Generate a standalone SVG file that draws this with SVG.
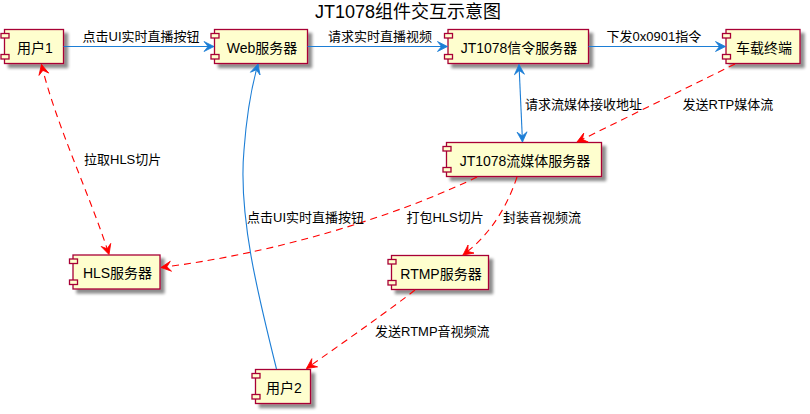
<svg xmlns="http://www.w3.org/2000/svg" width="810" height="414" viewBox="0 0 810 414">
<style>
.body{fill:#FEFECE;stroke:#A80036;stroke-width:1.3}
.bump{fill:#FEFECE;stroke:#A80036;stroke-width:1.3}
.nt{font-family:"Liberation Sans","Noto Sans CJK SC",sans-serif;font-size:14px;fill:#000;text-anchor:middle}
.lb{font-family:"Liberation Sans","Noto Sans CJK SC",sans-serif;font-size:13px;fill:#000}
.title{font-family:"Liberation Sans","Noto Sans CJK SC",sans-serif;font-size:18px;fill:#000}
.blue{fill:none;stroke:#1C7ED6;stroke-width:1.1}
.red{fill:none;stroke:#FF0000;stroke-width:1.1;stroke-dasharray:7,5}
</style>
<defs>
<filter id="sh" x="-20%" y="-30%" width="150%" height="170%">
<feGaussianBlur in="SourceAlpha" stdDeviation="1.8"/>
<feOffset dx="4" dy="4" result="b"/>
<feComponentTransfer><feFuncA type="linear" slope="0.45"/></feComponentTransfer>
<feMerge><feMergeNode/><feMergeNode in="SourceGraphic"/></feMerge>
</filter>
<marker id="ab" viewBox="-11 -6 12 12" refX="0" refY="0" markerWidth="12" markerHeight="12" markerUnits="userSpaceOnUse" orient="auto-start-reverse">
<path d="M0,0 L-10,-5 L-6,0 L-10,5 Z" fill="#1C7ED6" stroke="#1C7ED6" stroke-width="0.8"/>
</marker>
<marker id="ar" viewBox="-11 -6 12 12" refX="0" refY="0" markerWidth="12" markerHeight="12" markerUnits="userSpaceOnUse" orient="auto-start-reverse">
<path d="M0,0 L-10,-5 L-6,0 L-10,5 Z" fill="#FF0000" stroke="#FF0000" stroke-width="0.8"/>
</marker>
</defs>
<rect width="810" height="414" fill="#fff"/>
<text class="title" x="315" y="18">JT1078组件交互示意图</text>

<g id="user1">
<rect class="body" filter="url(#sh)" x="4.5" y="29.5" width="59" height="34"/>
<rect class="bump" x="1" y="33.5" width="8" height="4.5"/>
<rect class="bump" x="1" y="54.5" width="8" height="4.5"/>
<text class="nt" x="35" y="52.5">用户1</text>
</g>
<g id="web">
<rect class="body" filter="url(#sh)" x="214.5" y="29.5" width="93" height="34"/>
<rect class="bump" x="211" y="33.5" width="8" height="4.5"/>
<rect class="bump" x="211" y="54.5" width="8" height="4.5"/>
<text class="nt" x="262" y="52.5">Web服务器</text>
</g>
<g id="signal">
<rect class="body" filter="url(#sh)" x="448" y="29.5" width="140.5" height="34"/>
<rect class="bump" x="444.5" y="33.5" width="8" height="4.5"/>
<rect class="bump" x="444.5" y="54.5" width="8" height="4.5"/>
<text class="nt" x="519" y="52.5">JT1078信令服务器</text>
</g>
<g id="terminal">
<rect class="body" filter="url(#sh)" x="726" y="29.5" width="74" height="34"/>
<rect class="bump" x="722.5" y="33.5" width="8" height="4.5"/>
<rect class="bump" x="722.5" y="54.5" width="8" height="4.5"/>
<text class="nt" x="764" y="52.5">车载终端</text>
</g>
<g id="media">
<rect class="body" filter="url(#sh)" x="446.5" y="142.5" width="155" height="34"/>
<rect class="bump" x="443" y="146.5" width="8" height="4.5"/>
<rect class="bump" x="443" y="167.5" width="8" height="4.5"/>
<text class="nt" x="525" y="165.5">JT1078流媒体服务器</text>
</g>
<g id="hls">
<rect class="body" filter="url(#sh)" x="73" y="255" width="87" height="34"/>
<rect class="bump" x="69.5" y="259" width="8" height="4.5"/>
<rect class="bump" x="69.5" y="280" width="8" height="4.5"/>
<text class="nt" x="117.5" y="278">HLS服务器</text>
</g>
<g id="rtmp">
<rect class="body" filter="url(#sh)" x="391.5" y="255.5" width="97" height="34"/>
<rect class="bump" x="388" y="259.5" width="8" height="4.5"/>
<rect class="bump" x="388" y="280.5" width="8" height="4.5"/>
<text class="nt" x="441" y="278.5">RTMP服务器</text>
</g>
<g id="user2">
<rect class="body" filter="url(#sh)" x="255.5" y="369.5" width="55" height="34"/>
<rect class="bump" x="252" y="373.5" width="8" height="4.5"/>
<rect class="bump" x="252" y="394.5" width="8" height="4.5"/>
<text class="nt" x="284" y="392.5">用户2</text>
</g>

<g id="connectors">
<path class="blue" d="M63.5,46.5 L214,46.5" marker-end="url(#ab)"/>
<text class="lb" x="82.5" y="41">点击UI实时直播按钮</text>
<path class="blue" d="M307.5,46.5 L447.5,46.5" marker-end="url(#ab)"/>
<text class="lb" x="328" y="41">请求实时直播视频</text>
<path class="blue" d="M588.5,46.5 L725.5,46.5" marker-end="url(#ab)"/>
<text class="lb" x="606.5" y="41">下发0x0901指令</text>
<path class="blue" d="M519,64.5 L522.5,142" marker-start="url(#ab)" marker-end="url(#ab)"/>
<text class="lb" x="525" y="109">请求流媒体接收地址</text>
<path class="red" d="M735,64 L577,142" marker-end="url(#ar)"/>
<text class="lb" x="682.5" y="109">发送RTP媒体流</text>
<path class="red" d="M41.5,64.5 C56,125 90,195 109,254.5" marker-start="url(#ar)" marker-end="url(#ar)"/>
<text class="lb" x="84" y="164">拉取HLS切片</text>
<path class="red" d="M477,177 C420,205 300,250 161,267.5" marker-end="url(#ar)"/>
<text class="lb" x="406.5" y="222">打包HLS切片</text>
<path class="red" d="M517,177 C507,207 490,235 463,255" marker-end="url(#ar)"/>
<text class="lb" x="503" y="222">封装音视频流</text>
<path class="red" d="M415,290 C395,306 340,345 306.5,368.5" marker-end="url(#ar)"/>
<text class="lb" x="375" y="336">发送RTMP音视频流</text>
<path class="blue" d="M276.5,369 C258,295 238,215 244,150 C247,110 252,85 258,64" marker-end="url(#ab)"/>
<text class="lb" x="247" y="222">点击UI实时直播按钮</text>
</g>
</svg>
